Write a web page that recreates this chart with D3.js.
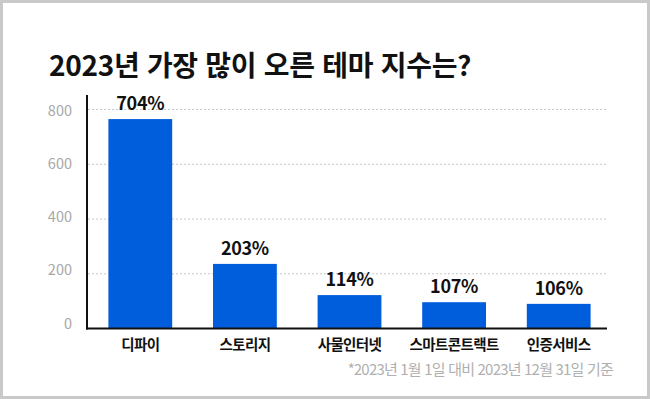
<!DOCTYPE html>
<html lang="ko">
<head>
<meta charset="UTF-8">
<title>2023년 가장 많이 오른 테마 지수는?</title>
<script src="https://d3js.org/d3.v7.min.js"></script>
<style>
    body { margin: 0; background: #fff; }
    svg { display: block; }
    text { font-family: "Noto Sans CJK KR", "Noto Sans", sans-serif; }
</style>
</head>
<body>
<div id="chart"></div>
<script>
    // data
    const categories = ["디파이", "스토리지", "사물인터넷", "스마트콘트랙트", "인증서비스"];
    const barValues = [765, 236, 122, 96, 90];          // bar heights as drawn
    const valueLabels = ["704%", "203%", "114%", "107%", "106%"];
    const yTicks = [0, 200, 400, 600, 800];
    const title = "2023년 가장 많이 오른 테마 지수는?";
    const footnote = "*2023년 1월 1일 대비 2023년 12월 31일 기준";

    const width = 650, height = 399;
    const blue = "#005ddc";

    const svg = d3.select("#chart").append("svg")
        .attr("width", width)
        .attr("height", height);

    // frame
    svg.append("rect")
        .attr("x", 1.5).attr("y", 1.5)
        .attr("width", width - 3).attr("height", height - 3)
        .attr("fill", "#fff")
        .attr("stroke", "#c9c9c9")
        .attr("stroke-width", 3);

    svg.append("text")
        .attr("x", 49).attr("y", 76)
        .attr("font-size", 28)
        .attr("font-weight", 700)
        .attr("letter-spacing", -0.3)
        .attr("fill", "#111")
        .text(title);

    const x = d3.scaleBand()
        .domain(categories)
        .range([88, 611])
        .paddingInner(0.39)
        .paddingOuter(0.195);

    const y = d3.scaleLinear()
        .domain([0, 800])
        .range([328.5, 109.5]);

    // tick labels sit a bit off the grid in the original
    const yLabel = d3.scaleLinear()
        .domain([0, 800])
        .range([323.5, 110.7]);

    // grid
    svg.append("g")
        .selectAll("line")
        .data(yTicks.filter(d => d > 0))
        .join("line")
        .attr("x1", 88).attr("x2", 607)
        .attr("y1", d => y(d)).attr("y2", d => y(d))
        .attr("stroke", "#c8c8c8")
        .attr("stroke-dasharray", "2,2");

    svg.append("g")
        .selectAll("text")
        .data(yTicks)
        .join("text")
        .attr("x", 72)
        .attr("y", d => yLabel(d))
        .attr("dy", "0.35em")
        .attr("text-anchor", "end")
        .attr("font-size", 14.5)
        .attr("fill", "#a8a8a8")
        .text(d => d);

    // bars
    svg.append("g")
        .selectAll("rect")
        .data(categories)
        .join("rect")
        .attr("x", d => x(d))
        .attr("y", (d, i) => y(barValues[i]))
        .attr("width", x.bandwidth())
        .attr("height", (d, i) => y(0) - y(barValues[i]))
        .attr("fill", blue);

    svg.append("g")
        .selectAll("text")
        .data(categories)
        .join("text")
        .attr("x", d => x(d) + x.bandwidth() / 2)
        .attr("y", (d, i) => y(barValues[i]) - 9)
        .attr("text-anchor", "middle")
        .attr("font-size", 18)
        .attr("font-weight", 700)
        .attr("letter-spacing", -0.3)
        .attr("fill", "#111")
        .text((d, i) => valueLabels[i]);

    // axes lines
    svg.append("line")
        .attr("x1", 87).attr("x2", 87)
        .attr("y1", 95).attr("y2", 329.5)
        .attr("stroke", "#111").attr("stroke-width", 2);
    svg.append("line")
        .attr("x1", 86).attr("x2", 607)
        .attr("y1", 328.5).attr("y2", 328.5)
        .attr("stroke", "#111").attr("stroke-width", 2);

    svg.append("g")
        .selectAll("text")
        .data(categories)
        .join("text")
        .attr("x", d => x(d) + x.bandwidth() / 2)
        .attr("y", 350)
        .attr("text-anchor", "middle")
        .attr("font-size", 14.5)
        .attr("font-weight", 700)
        .attr("letter-spacing", -0.6)
        .attr("fill", "#111")
        .text(d => d);

    svg.append("text")
        .attr("x", 613).attr("y", 375)
        .attr("text-anchor", "end")
        .attr("font-size", 15)
        .attr("letter-spacing", -0.8)
        .attr("fill", "#b0b0b0")
        .text(footnote);
</script>
</body>
</html>
